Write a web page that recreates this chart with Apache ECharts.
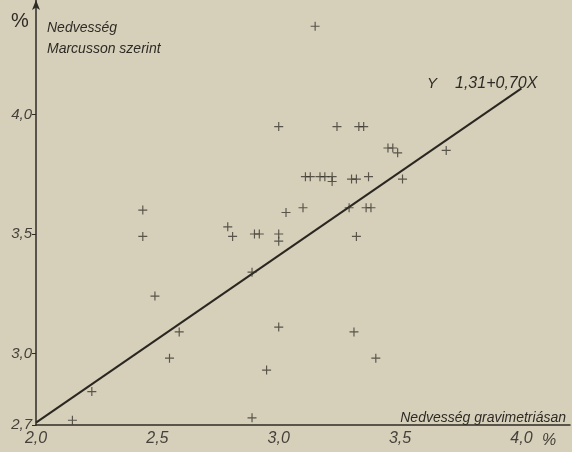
<!DOCTYPE html>
<html>
<head>
<meta charset="utf-8">
<script src="https://cdn.jsdelivr.net/npm/echarts@6/dist/echarts.min.js"></script>
<style>
html,body{margin:0;padding:0;background:#d5cfba;}
#chart{width:572px;height:452px;}
</style>
</head>
<body>
<div id="chart"></div>
<script>
// Tick values
const xTickValues = [2.0, 2.5, 3.0, 3.5, 4.0];
const yTickValues = [2.7, 3.0, 3.5, 4.0];

// Measurements: gravimetric moisture (X) vs Marcusson moisture (Y), %
const measX = [3.15, 3.00, 3.24, 3.33, 3.35, 3.45, 3.47, 3.49, 3.69, 3.11, 3.13, 3.17, 3.19, 3.22, 3.22,
               3.30, 3.32, 3.37, 3.51, 3.03, 3.10, 3.29, 3.36, 3.38, 2.90, 2.92, 3.00, 3.00, 3.32, 2.44,
               2.44, 2.79, 2.81, 2.89, 2.49, 2.59, 3.00, 2.55, 2.95, 3.31, 3.40, 2.89, 2.15, 2.23];
const measY = [4.37, 3.95, 3.95, 3.95, 3.95, 3.86, 3.86, 3.84, 3.85, 3.74, 3.74, 3.74, 3.74, 3.74, 3.72,
               3.73, 3.73, 3.74, 3.73, 3.59, 3.61, 3.61, 3.61, 3.61, 3.50, 3.50, 3.50, 3.47, 3.49, 3.60,
               3.49, 3.53, 3.49, 3.34, 3.24, 3.09, 3.11, 2.98, 2.93, 3.09, 2.98, 2.73, 2.72, 2.84];

// Regression: Y = 1.31 + 0.70 X
const fitIntercept = 1.31;
const fitSlope = 0.70;
const fitX = [2.0, 4.0];

const ink = '#2e2b25';
const labelInk = '#45413a';
const fontFam = '"Liberation Sans", "DejaVu Sans", sans-serif';
const fmt = v => Number(v).toFixed(1).replace('.', ',');

const chart = echarts.init(document.getElementById('chart'), null, {renderer: 'canvas'});
chart.setOption({
  backgroundColor: '#d6d0bb',
  animation: false,
  grid: {left: 36, right: 2, top: 0, bottom: 27, containLabel: false},
  xAxis: {
    type: 'value', min: 2.0, max: 4.2,
    splitLine: {show: false},
    axisLine: {show: true, onZero: false, lineStyle: {color: ink, width: 1.5}},
    axisTick: {show: false},
    axisLabel: {
      customValues: xTickValues,
      formatter: fmt,
      color: labelInk, fontSize: 16, fontStyle: 'italic', fontFamily: fontFam, margin: 6
    }
  },
  yAxis: {
    type: 'value', min: 2.7, max: 4.48,
    splitLine: {show: false},
    axisLine: {show: true, onZero: false, symbol: ['none', 'arrow'], symbolSize: [6, 10],
               lineStyle: {color: ink, width: 1.5}},
    axisTick: {show: true, customValues: yTickValues, length: 4, lineStyle: {color: ink, width: 1}},
    axisLabel: {
      customValues: yTickValues,
      formatter: fmt,
      color: labelInk, fontSize: 15, fontStyle: 'italic', fontFamily: fontFam, margin: 4
    }
  },
  series: [
    {
      type: 'line',
      data: fitX.map(x => [x, fitIntercept + fitSlope * x]),
      symbol: 'none',
      lineStyle: {color: '#2a2721', width: 2},
      z: 2
    },
    {
      type: 'scatter',
      data: measX.map((x, i) => [x, measY[i]]),
      symbol: 'path://M4.35,0H5.65V4.35H10V5.65H5.65V10H4.35V5.65H0V4.35H4.35Z',
      symbolSize: 9,
      itemStyle: {color: '#38342d'},
      z: 3
    }
  ],
  graphic: [
    {type: 'text', left: 11, top: 11, style: {text: '%', font: '20px ' + fontFam, fill: ink}},
    {type: 'text', x: 47, y: 28, style: {text: 'Nedvesség', font: 'italic 14px ' + fontFam, fill: ink, textVerticalAlign: 'middle'}},
    {type: 'text', x: 47, y: 49, style: {text: 'Marcusson szerint', font: 'italic 14px ' + fontFam, fill: ink, textVerticalAlign: 'middle'}},
    {type: 'text', x: 427, y: 84, style: {text: 'Y', font: 'italic 15px ' + fontFam, fill: ink, textVerticalAlign: 'middle'}},
    {type: 'text', x: 455, y: 84, style: {text: '1,31+0,70X', font: 'italic 16px ' + fontFam, fill: ink, textVerticalAlign: 'middle'}},
    {type: 'text', x: 566, y: 418, style: {text: 'Nedvesség gravimetriásan', font: 'italic 14px ' + fontFam, fill: ink, textAlign: 'right', textVerticalAlign: 'middle'}},
    {type: 'text', x: 542, y: 441, style: {text: '%', font: 'italic 16px ' + fontFam, fill: labelInk, textVerticalAlign: 'middle'}}
  ]
});
</script>
</body>
</html>
